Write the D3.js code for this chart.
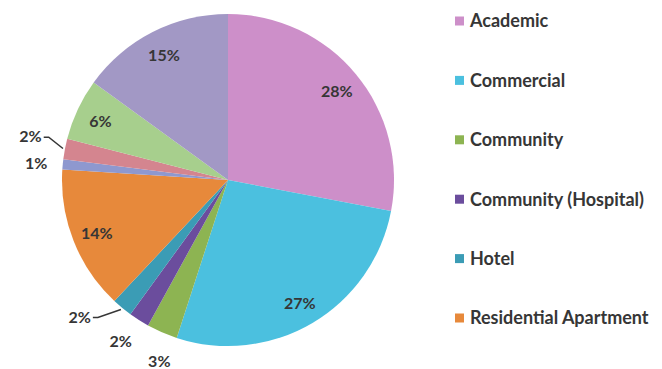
<!DOCTYPE html>
<html>
<head>
<meta charset="utf-8">
<script src="https://cdn.jsdelivr.net/npm/d3@7"></script>
<style>
  html, body { margin: 0; padding: 0; background: #fff; }
  svg { display: block; }
  text { font-family: Lato, "Open Sans", sans-serif; font-weight: bold; fill: #363636; }
</style>
</head>
<body>
<svg id="chart" width="662" height="369"></svg>
<script>
// Building types and their share of the total (percent), clockwise from 12 o'clock
const categories = [
  "Academic", "Commercial", "Community", "Community (Hospital)", "Hotel",
  "Residential Apartment", "Residential House", "Retail", "Sports", "Student Residence"
];
const shares = [28, 27, 3, 2, 2, 14, 1, 2, 6, 15];
const colors = [
  "#cd8fc9", "#4bc0df", "#8db452", "#6b4d9d", "#3b9cb5",
  "#e7893b", "#8e98cf", "#d4858f", "#a7cf8d", "#a298c5"
];

// layout
const W = 662, H = 369;
const cx = 228, cy = 180, R = 166;
const insideRatio = 0.85, outsideRatio = 1.16;
// per-slice tweaks for crowded outside labels: extra rotation (deg) and radius ratio
const labelNudge = {
  2: { deg: -2.5 },
  3: { deg: 1.5 },
  4: { deg: 8, ratio: 1.21 },
  7: { deg: 2, ratio: 1.22 }
};
const leaderFor = new Set([4, 7]);        // outside labels with a leader line
const legendRows = 6;

const svg = d3.select("#chart");
const g = svg.append("g").attr("transform", `translate(${cx},${cy})`);

const data = categories.map((c, i) => ({ name: c, value: shares[i], color: colors[i], i }));
const pie = d3.pie().value(d => d.value).sort(null);
const arcs = pie(data);
const arc = d3.arc().innerRadius(0).outerRadius(R);

g.selectAll("path.slice")
  .data(arcs)
  .join("path")
  .attr("class", "slice")
  .attr("d", arc)
  .attr("fill", d => d.data.color);

function polar(angle, r) {
  return [r * Math.sin(angle), -r * Math.cos(angle)];
}

arcs.forEach(a => {
  const mid = (a.startAngle + a.endAngle) / 2;
  const inside = a.data.value >= 5;
  const tweak = labelNudge[a.data.i] || {};
  const rot = (tweak.deg || 0) * Math.PI / 180;
  const ratio = tweak.ratio || (inside ? insideRatio : outsideRatio);
  const [x, y] = polar(mid + rot, R * ratio);
  const t = g.append("text")
    .attr("x", x).attr("y", y)
    .attr("text-anchor", "middle")
    .attr("dy", "0.45em")
    .attr("font-size", 16)
    .text(a.data.value + "%");
  if (leaderFor.has(a.data.i)) {
    const w = t.node().getComputedTextLength();
    const sx = x + w / 2 + 2, sy = y + 2;
    const [ex, ey] = polar(mid, R + 2);
    g.append("path")
      .attr("d", `M${sx},${sy} L${sx + 5},${sy} L${ex},${ey}`)
      .attr("fill", "none")
      .attr("stroke", "#363636")
      .attr("stroke-width", 1.5);
  }
});

// legend column
const legend = svg.append("g").attr("transform", "translate(455,21)");
const rowY = d3.scalePoint().domain(d3.range(legendRows)).range([0, 297]);
const rows = legend.selectAll("g.row")
  .data(data.slice(0, legendRows))
  .join("g")
  .attr("class", "row")
  .attr("transform", (d, i) => `translate(0,${rowY(i)})`);
rows.append("rect")
  .attr("x", 0).attr("y", -4.5)
  .attr("width", 9).attr("height", 9)
  .attr("fill", d => d.color);
rows.append("text")
  .attr("x", 15).attr("dy", "0.36em")
  .attr("font-size", 18)
  .text(d => d.name);
</script>
</body>
</html>
